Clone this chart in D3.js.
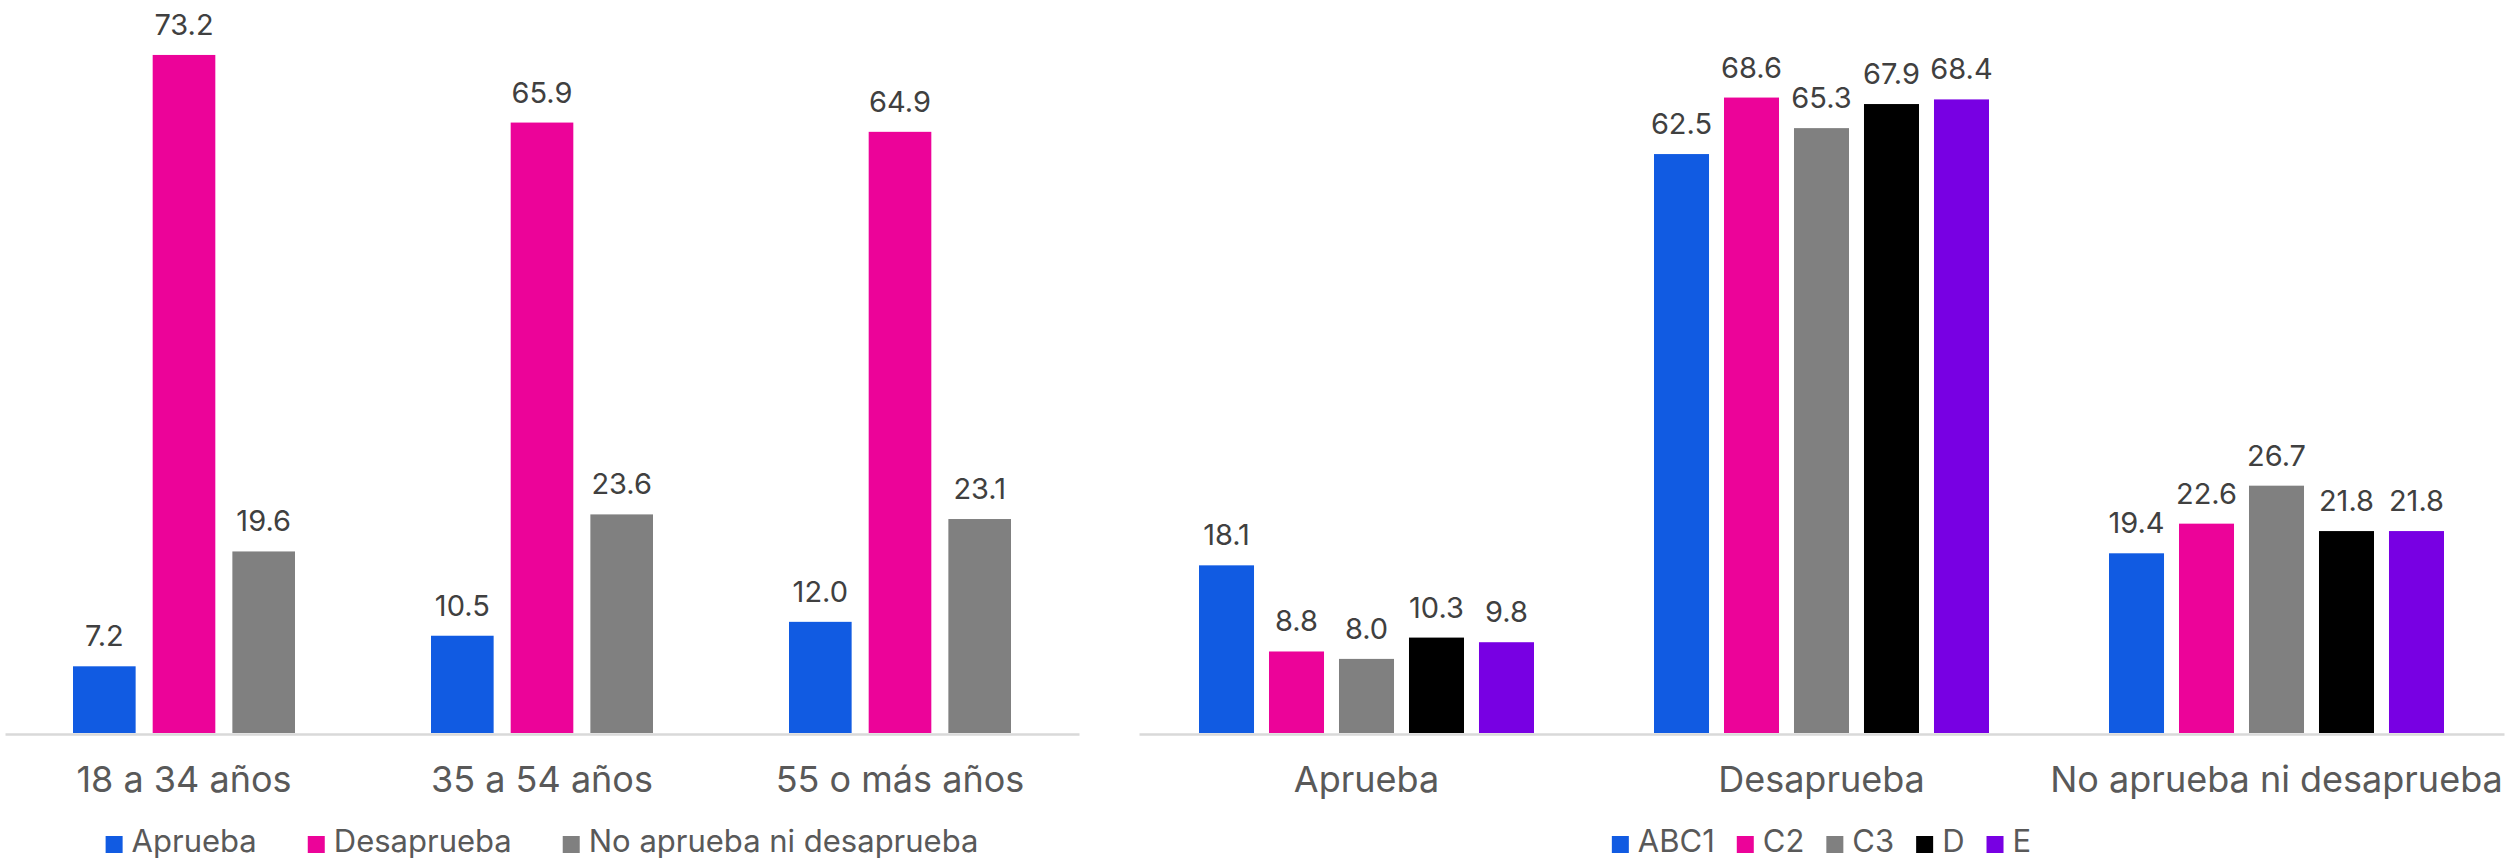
<!DOCTYPE html>
<html>
<head>
<meta charset="utf-8">
<script src="https://cdn.jsdelivr.net/npm/d3@7"></script>
<style>
  html, body { margin: 0; padding: 0; background: #ffffff; }
  svg { display: block; }
  text { font-family: Inter, "Open Sans", sans-serif; }
</style>
</head>
<body>
<svg id="chart" width="2514" height="860"></svg>
<script>
// ---- Left chart data (age groups) ----
const ageCategories = ["18 a 34 años", "35 a 54 años", "55 o más años"];
const opinionSeries = ["Aprueba", "Desaprueba", "No aprueba ni desaprueba"];
const apruebaByAge = [7.2, 10.5, 12.0];
const desapruebaByAge = [73.2, 65.9, 64.9];
const neutralByAge = [19.6, 23.6, 23.1];

// ---- Right chart data (socioeconomic level) ----
const opinionCategories = ["Aprueba", "Desaprueba", "No aprueba ni desaprueba"];
const nseSeries = ["ABC1", "C2", "C3", "D", "E"];
const abc1Values = [18.1, 62.5, 19.4];
const c2Values = [8.8, 68.6, 22.6];
const c3Values = [8.0, 65.3, 26.7];
const dValues = [10.3, 67.9, 21.8];
const eValues = [9.8, 68.4, 21.8];

const leftColors = ["#115BE2", "#EC0399", "#808080"];
const rightColors = ["#115BE2", "#EC0399", "#808080", "#000000", "#7800E3"];

const svg = d3.select("#chart");

const baseY = 733;
const pxPerUnit = 9.263;
const y = d3.scaleLinear().domain([0, 80]).range([baseY, baseY - 80 * pxPerUnit]);

function drawPanel(cfg) {
  const g = svg.append("g");
  const x0 = d3.scaleBand().domain(cfg.categories).range([cfg.x0, cfg.x1]).padding(0);
  const bw = x0.bandwidth();
  const x1 = d3.scaleBand().domain(cfg.series)
    .range([cfg.outer, bw - cfg.outer]).paddingInner(cfg.innerPad).paddingOuter(0);
  const color = d3.scaleOrdinal().domain(cfg.series).range(cfg.colors);

  const rows = [];
  cfg.categories.forEach((c, i) => {
    cfg.series.forEach((s, j) => {
      rows.push({ cat: c, ser: s, val: cfg.values[j][i] });
    });
  });

  // bars
  g.selectAll("rect.bar").data(rows).join("rect")
    .attr("class", "bar")
    .attr("x", d => x0(d.cat) + x1(d.ser))
    .attr("y", d => y(d.val))
    .attr("width", x1.bandwidth())
    .attr("height", d => y(0) - y(d.val))
    .attr("fill", d => color(d.ser));

  // value labels
  g.selectAll("text.val").data(rows).join("text")
    .attr("class", "val")
    .attr("x", d => x0(d.cat) + x1(d.ser) + x1.bandwidth() / 2)
    .attr("y", d => y(d.val) - 20)
    .attr("text-anchor", "middle")
    .attr("font-size", 29)
    .attr("fill", "#404040")
    .text(d => d.val.toFixed(1));

  // axis baseline + category labels
  const axis = d3.axisBottom(x0).tickSize(0).tickPadding(0);
  const ag = g.append("g").attr("transform", `translate(0,${baseY + 1})`).call(axis);
  ag.select(".domain").attr("stroke", "#d9d9d9").attr("stroke-width", 2.5);
  ag.selectAll(".tick text")
    .attr("dy", null)
    .attr("y", 58)
    .attr("font-size", 36)
    .attr("font-family", "Inter, 'Open Sans', sans-serif")
    .attr("fill", "#595959");

  // legend
  const lg = g.append("g");
  const items = lg.selectAll("g.item").data(cfg.series).join("g").attr("class", "item");
  items.append("rect")
    .attr("width", 17).attr("height", 17)
    .attr("y", 836)
    .attr("fill", d => color(d));
  items.append("text")
    .attr("x", 26)
    .attr("y", 852)
    .attr("font-size", 31)
    .attr("fill", "#595959")
    .text(d => d);
  const widths = [];
  items.each(function () {
    widths.push(this.querySelector("text").getComputedTextLength() + 26);
  });
  const total = d3.sum(widths) + cfg.legendGap * (widths.length - 1);
  let start = (cfg.x0 + cfg.x1) / 2 - total / 2;
  items.each(function (d, i) {
    d3.select(this).attr("transform", `translate(${start},0)`);
    start += widths[i] + cfg.legendGap;
  });
}

drawPanel({
  categories: ageCategories,
  series: opinionSeries,
  values: [apruebaByAge, desapruebaByAge, neutralByAge],
  colors: leftColors,
  x0: 5, x1: 1079,
  outer: 68, innerPad: 0.214,
  legendGap: 51
});

drawPanel({
  categories: opinionCategories,
  series: nseSeries,
  values: [abc1Values, c2Values, c3Values, dValues, eValues],
  colors: rightColors,
  x0: 1139, x1: 2504,
  outer: 60, innerPad: 0.214,
  legendGap: 22
});
</script>
</body>
</html>
